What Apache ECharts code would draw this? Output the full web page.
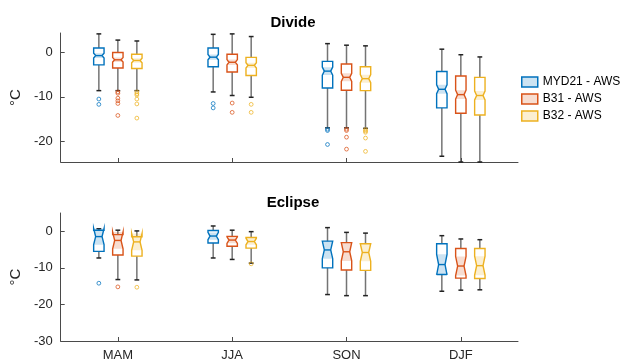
<!DOCTYPE html>
<html>
<head>
<meta charset="utf-8">
<script src="https://cdn.jsdelivr.net/npm/echarts@6/dist/echarts.min.js"></script>
<style>html,body{margin:0;padding:0;background:#fff}#c{width:621px;height:362px}</style>
</head>
<body>
<div id="c"></div>
<script>
// ---- data ----
const seasons = ['MAM', 'JJA', 'SON', 'DJF'];
const seriesNames = ['MYD21 - AWS', 'B31 - AWS', 'B32 - AWS'];
const panelTitles = ['Divide', 'Eclipse'];
const divideTicks = [0, -10, -20];
const eclipseTicks = [0, -10, -20, -30];

// [low whisker, q1, median, q3, high whisker] per season
const divideMYD21 = [[-8.6, -2.8, -0.7, 1.0, 4.2], [-8.9, -3.2, -1.05, 1.0, 4.1], [-17.0, -8.0, -4.2, -2.0, 2.0], [-23.4, -12.5, -8.3, -4.3, 0.75]];
const divideB31   = [[-8.6, -3.5, -1.65, 0.0, 2.8], [-9.7, -4.4, -2.2, -0.4, 4.2], [-17.0, -8.5, -5.6, -2.6, 1.65], [-24.7, -13.7, -9.5, -5.3, -0.5]];
const divideB32   = [[-8.6, -3.6, -1.8, -0.4, 2.6], [-10.1, -5.2, -2.9, -1.1, 3.6], [-17.1, -8.6, -5.9, -3.2, 1.5], [-24.7, -14.1, -9.7, -5.6, -1.0]];
// notch half-heights
const divideNotchMYD21 = [0.55, 0.6, 0.9, 1.0];
const divideNotchB31   = [0.5, 0.6, 0.9, 1.0];
const divideNotchB32   = [0.5, 0.6, 0.9, 1.0];

const eclipseMYD21 = [[-7.3, -5.5, -1.45, 0.3, 0.7], [-7.3, -3.2, -1.3, 0.2, 1.45], [-17.3, -10.0, -5.1, -2.7, 1.0], [-16.4, -11.8, -9.1, -3.4, -1.2]];
const eclipseB31   = [[-13.2, -6.5, -2.5, -0.9, 0.3], [-7.7, -4.1, -2.4, -1.4, 0.3], [-17.6, -10.6, -5.6, -3.1, -0.3], [-16.1, -12.8, -9.5, -4.7, -2.1]];
const eclipseB32   = [[-13.3, -6.8, -2.9, -1.5, 0.1], [-8.7, -4.6, -2.8, -1.7, -0.1], [-17.6, -10.7, -5.8, -3.4, -0.5], [-16.0, -12.9, -9.4, -4.7, -2.3]];
const eclipseNotchMYD21 = [2.2, 1.0, 2.4, 2.8];
const eclipseNotchB31   = [2.3, 0.9, 2.5, 2.6];
const eclipseNotchB32   = [2.3, 0.9, 2.4, 2.6];

// outliers: [season index, value]
const divideOutMYD21 = [[0, -10.5], [0, -11.7], [1, -11.5], [1, -12.5], [2, -17.3], [2, -17.6], [2, -20.75]];
const divideOutB31   = [[0, -8.9], [0, -9.2], [0, -10.3], [0, -10.9], [0, -11.5], [0, -14.2], [1, -11.4], [1, -13.5], [2, -17.3], [2, -17.6], [2, -19.1], [2, -21.8]];
const divideOutB32   = [[0, -8.9], [0, -9.3], [0, -9.6], [0, -10.5], [0, -11.6], [0, -14.8], [1, -11.7], [1, -13.5], [2, -17.4], [2, -17.7], [2, -18.0], [2, -19.3], [2, -22.3]];
const eclipseOutMYD21 = [[0, -14.2]];
const eclipseOutB31   = [[0, -15.2]];
const eclipseOutB32   = [[0, -15.3], [1, -8.9]];

// ---- styling ----
const colors = ['#0072BD', '#D95319', '#EDB120'];
const fills = ['rgba(0,114,189,0.2)', 'rgba(217,83,25,0.2)', 'rgba(237,177,32,0.2)'];
const offsets = [-19, 0, 19];
const FONT = '"Liberation Sans", Arial, Helvetica, sans-serif';

function boxData(stats, notch) {
  return stats.map((s, i) => [i, s[0], s[1], s[2], s[3], s[4], notch[i]]);
}

function boxRender(k) {
  return function (params, api) {
    const x = api.value(0);
    const c = v => api.coord([x, v]);
    const low = c(api.value(1)), q1 = c(api.value(2)), med = c(api.value(3)),
          q3 = c(api.value(4)), high = c(api.value(5));
    const nh = api.value(6);
    const nHi = c(api.value(3) + nh), nLo = c(api.value(3) - nh);
    const cx = low[0] + offsets[k];
    const hw = 5.2, d = 2.0, cap = 2.4;
    const L = cx - hw, R = cx + hw;
    const outline = [[L, q3[1]], [L, nHi[1]], [L + d, med[1]], [L, nLo[1]], [L, q1[1]],
                     [R, q1[1]], [R, nLo[1]], [R - d, med[1]], [R, nHi[1]], [R, q3[1]]];
    const bow = [[L, nHi[1]], [L + d, med[1]], [L, nLo[1]], [R, nLo[1]], [R - d, med[1]], [R, nHi[1]]];
    return {
      type: 'group',
      children: [
        { type: 'line', shape: { x1: cx, y1: high[1], x2: cx, y2: q3[1] }, style: { stroke: 'rgba(70,70,70,0.75)', lineWidth: 1.5 } },
        { type: 'line', shape: { x1: cx, y1: q1[1], x2: cx, y2: low[1] }, style: { stroke: 'rgba(70,70,70,0.75)', lineWidth: 1.5 } },
        { type: 'line', shape: { x1: cx - cap, y1: high[1], x2: cx + cap, y2: high[1] }, style: { stroke: '#222', lineWidth: 1.5 } },
        { type: 'line', shape: { x1: cx - cap, y1: low[1], x2: cx + cap, y2: low[1] }, style: { stroke: '#222', lineWidth: 1.5 } },
        { type: 'polygon', shape: { points: bow }, style: { fill: fills[k], stroke: null } },
        { type: 'polygon', shape: { points: outline }, style: { fill: null, stroke: colors[k], lineWidth: 1.4 } },
        { type: 'line', shape: { x1: L + d, y1: med[1], x2: R - d, y2: med[1] }, style: { stroke: colors[k], lineWidth: 1.4 } }
      ]
    };
  };
}

function outRender(k) {
  return function (params, api) {
    const p = api.coord([api.value(0), api.value(1)]);
    return { type: 'circle', shape: { cx: p[0] + offsets[k], cy: p[1], r: 1.9 },
             style: { fill: null, stroke: colors[k], opacity: 0.75, lineWidth: 1 } };
  };
}

const panels = [
  { stats: [divideMYD21, divideB31, divideB32], notch: [divideNotchMYD21, divideNotchB31, divideNotchB32],
    outs: [divideOutMYD21, divideOutB31, divideOutB32] },
  { stats: [eclipseMYD21, eclipseB31, eclipseB32], notch: [eclipseNotchMYD21, eclipseNotchB31, eclipseNotchB32],
    outs: [eclipseOutMYD21, eclipseOutB31, eclipseOutB32] }
];

const series = [];
panels.forEach((p, g) => {
  for (let k = 0; k < 3; k++) {
    series.push({ type: 'custom', name: seriesNames[k], xAxisIndex: g, yAxisIndex: g,
      renderItem: boxRender(k), data: boxData(p.stats[k], p.notch[k]),
      encode: { x: 0, y: [1, 2, 3, 4, 5] }, itemStyle: { color: colors[k] }, silent: true });
    series.push({ type: 'custom', name: seriesNames[k], xAxisIndex: g, yAxisIndex: g,
      renderItem: outRender(k), data: p.outs[k], encode: { x: 0, y: 1 }, silent: true });
  }
});

const axisLineStyle = { color: '#4a4a4a', width: 1 };
function yAxis(g, min, max, ticks) {
  return {
    type: 'value', gridIndex: g, min: min, max: max,
    name: '°C', nameLocation: 'middle', nameGap: 34, nameRotate: 90,
    nameTextStyle: { fontFamily: FONT, fontSize: 15, color: '#262626' },
    axisLine: { show: true, onZero: false, lineStyle: axisLineStyle },
    axisTick: { show: true, inside: true, length: 4, lineStyle: axisLineStyle, customValues: ticks },
    splitLine: { show: false },
    axisLabel: { fontFamily: FONT, fontSize: 13, color: '#262626', margin: 8, customValues: ticks }
  };
}
function xAxis(g, showLabels) {
  return {
    type: 'category', gridIndex: g, data: seasons, boundaryGap: true,
    axisLine: { show: true, onZero: false, lineStyle: axisLineStyle },
    axisTick: { show: true, inside: true, alignWithLabel: true, length: 4, lineStyle: axisLineStyle },
    axisLabel: { show: showLabels, fontFamily: FONT, fontSize: 13, color: '#262626', margin: 8 },
    splitLine: { show: false }
  };
}

const chart = echarts.init(document.getElementById('c'), null, { renderer: 'canvas' });
chart.setOption({
  animation: false,
  backgroundColor: '#fff',
  title: [
    { text: panelTitles[0], left: 288, top: 10, textAlign: 'center',
      textStyle: { fontFamily: FONT, fontSize: 15, fontWeight: 'bold', color: '#000' } },
    { text: panelTitles[1], left: 288, top: 190, textAlign: 'center',
      textStyle: { fontFamily: FONT, fontSize: 15, fontWeight: 'bold', color: '#000' } }
  ],
  legend: {
    orient: 'vertical', left: 521, top: 76, itemWidth: 16, itemHeight: 10, itemGap: 5,
    selectedMode: false, padding: 0,
    textStyle: { fontFamily: FONT, fontSize: 12, color: '#000' },
    data: seriesNames.map((n, k) => ({ name: n, icon: 'rect',
      itemStyle: { color: fills[k], borderColor: colors[k], borderWidth: 1.5 } }))
  },
  grid: [
    { left: 58, top: 33, width: 460, height: 129 },
    { left: 58, top: 213, width: 460, height: 129 }
  ],
  xAxis: [xAxis(0, false), xAxis(1, true)],
  yAxis: [yAxis(0, -24.7, 4.4, divideTicks), yAxis(1, -30, 5, eclipseTicks)],
  series: series
});
</script>
</body>
</html>
